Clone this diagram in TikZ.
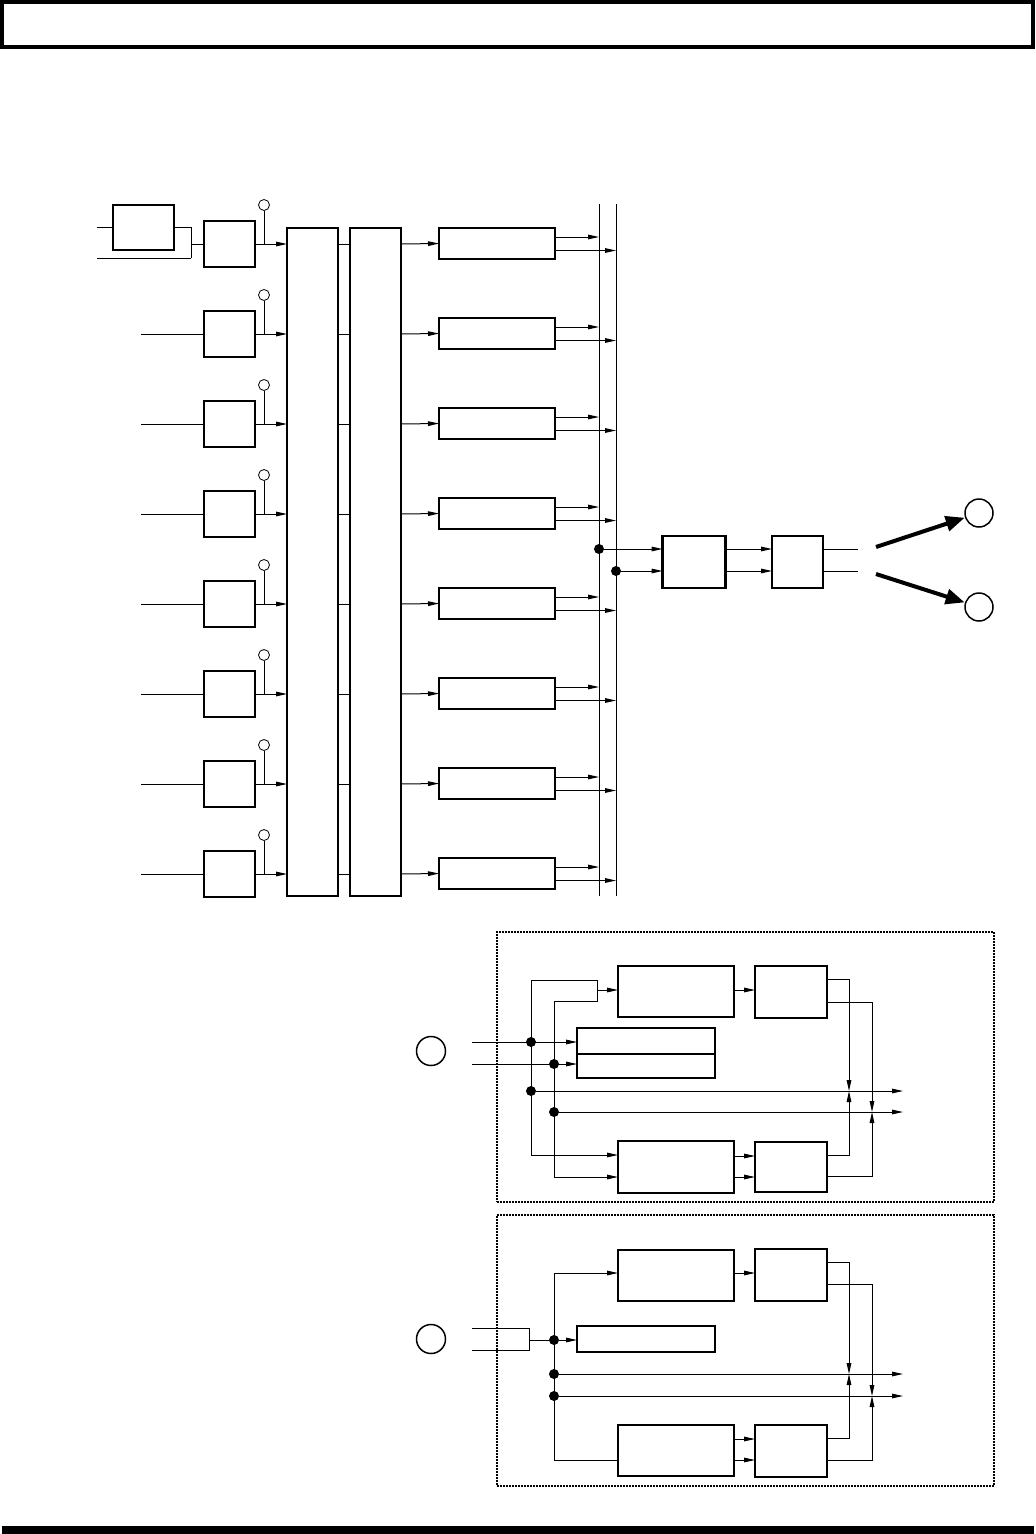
\documentclass[tikz,border=0pt]{standalone}
\usetikzlibrary{arrows.meta}
\begin{document}
\begin{tikzpicture}[x=1pt,y=-1pt,
  wire/.style={line width=1pt},
  arr/.style={line width=1pt,-{Triangle[length=11pt,width=4.6pt]}},
  bigarr/.style={line width=4pt,-{Triangle[length=19pt,width=15pt]}},
  tbox/.style={draw,line width=2.2pt,inner sep=0pt,outer sep=0pt},
  mbox/.style={draw,line width=1.6pt,inner sep=0pt,outer sep=0pt},
  nbox/.style={draw,line width=1.1pt,inner sep=0pt,outer sep=0pt},
  knob/.style={draw,circle,line width=0.8pt,minimum size=11pt,inner sep=0pt,outer sep=0pt},
  port/.style={draw,circle,line width=1.5pt,minimum size=29pt,inner sep=0pt,outer sep=0pt},
  dot/.style={fill,circle,minimum size=10pt,inner sep=0pt,outer sep=0pt},
  dotbox/.style={draw,line width=1.4pt,dash pattern=on 1.6pt off 1.4pt,inner sep=0pt,outer sep=0pt}]
\useasboundingbox (0,0) rectangle (1036,1534);
% header and footer
\node[draw,line width=4pt,minimum width=1031pt,minimum height=45pt,inner sep=0pt] (hdr) at (517.5,24.5) {};
\node[fill,minimum width=1032pt,minimum height=8pt,inner sep=0pt] (foot) at (518,1530) {};

% mixer columns
\node[tbox,minimum width=51pt,minimum height=668pt] (mixA) at (312.5,562) {};
\node[tbox,minimum width=51pt,minimum height=668pt] (mixB) at (375.5,562) {};
% bus lines
\coordinate (b1t) at (599,204); \coordinate (b1b) at (599,896);
\coordinate (b2t) at (616,204); \coordinate (b2b) at (616,896);
\draw[line width=1pt] (b1t) -- (b1b);
\draw[line width=1pt] (b2t) -- (b2b);

% first row pre-box
\node[tbox,minimum width=61pt,minimum height=45pt] (pre) at (143.5,227.5) {};
\coordinate (ina) at (97,227);
\coordinate (inb) at (97,258);
\coordinate (jt) at (191,227);
\coordinate (jb) at (191,258);
\coordinate (jm) at (191,244);
\draw[wire] (ina) -- (ina -| pre.west);
\draw[wire] (jt -| pre.east) -- (jt) -- (jb);
\draw[wire] (inb) -- (jb);

\foreach \i in {0,...,7}{
  \pgfmathsetmacro{\yy}{244+90*\i}
  \coordinate (y\i) at (0,\yy);
  \node[tbox,minimum width=51pt,minimum height=46pt] (rb\i) at (229.5,\yy) {};
  \node[knob] (kn\i) at (264,\yy-39) {};
  \coordinate (st\i) at (264,\yy);
  \draw[wire] (st\i) -- (kn\i.south);
  \draw[arr] (rb\i.east) -- (mixA.west |- y\i);
  \draw[wire] (mixA.east |- y\i) -- (mixB.west |- y\i);
  \node[tbox,minimum width=116pt,minimum height=31pt] (L\i) at (497,\yy-0.5) {};
  \draw[arr] (mixB.east |- y\i) -- (L\i.west);
  \coordinate (u\i) at (555,\yy-7);
  \coordinate (l\i) at (555,\yy+6.5);
  \draw[arr] (u\i) -- (u\i -| b1t);
  \draw[arr] (l\i) -- (l\i -| b2t);
}
\draw[wire] (jm) -- (rb0.west);
\foreach \i in {1,...,7}{
  \coordinate (in\i) at (141,244+90*\i);
  \draw[wire] (in\i) -- (rb\i.west);
}

% merge to output
\node[dot] (m1) at (599,549) {};
\node[dot] (m2) at (616,571) {};
\node[draw,line width=2.6pt,minimum width=63pt,minimum height=52pt,inner sep=0pt,outer sep=0pt] (bA) at (694,562) {};
\node[nbox,line width=1.5pt,minimum width=51pt,minimum height=52pt] (bB) at (797.5,562) {};
\draw[arr] (m1) -- (m1 -| bA.west);
\draw[arr] (m2) -- (m2 -| bA.west);
\draw[arr] (bA.east |- m1) -- (bB.west |- m1);
\draw[arr] (bA.east |- m2) -- (bB.west |- m2);
\coordinate (o1) at (858,549);
\coordinate (o2) at (858,571);
\draw[wire] (bB.east |- o1) -- (o1);
\draw[wire] (bB.east |- o2) -- (o2);
\node[port,minimum size=28pt] (O1) at (979,513) {};
\node[port,minimum size=28pt] (O2) at (979,607) {};
\coordinate (ba1) at (876,547);
\coordinate (ba2) at (876,574);
\draw[bigarr,shorten >=1pt] (ba1) -- (O1);
\draw[bigarr,shorten >=1pt] (ba2) -- (O2);

% ===== panel 1 =====
\node[dotbox,minimum width=497pt,minimum height=270pt] (p1) at (745.5,1067) {};
\node[port] (Q1) at (431,1051) {};
\coordinate (i1a) at (472,1042);
\coordinate (i1b) at (472,1064);
\node[draw,line width=2.4pt,minimum width=138pt,minimum height=26pt,inner sep=0pt,outer sep=0pt] (E1) at (646,1041) {};
\node[draw,line width=2.4pt,minimum width=138pt,minimum height=24pt,inner sep=0pt,outer sep=0pt] (E2) at (646,1066) {};
\node[mbox,minimum width=116pt,minimum height=51pt] (C1) at (676,991.5) {};
\node[tbox,minimum width=72pt,minimum height=52pt] (D1) at (791,992) {};
\node[mbox,minimum width=116pt,minimum height=52pt] (F1) at (676,1167) {};
\node[tbox,minimum width=72pt,minimum height=50pt] (G1) at (791,1167) {};
\node[dot] (d1) at (531,1042) {};
\node[dot] (d2) at (554,1064) {};
\node[dot] (d3) at (531,1091) {};
\node[dot] (d4) at (554,1112) {};
\draw[arr] (i1a) -- (i1a -| E1.west);
\draw[arr] (i1b) -- (i1b -| E2.west);
\coordinate (v1t) at (531,980);
\coordinate (v1b) at (531,1155);
\coordinate (v2t) at (554,1001);
\coordinate (v2b) at (554,1177);
\coordinate (brt) at (597,980);
\coordinate (brb) at (597,1001);
\coordinate (brm) at (597,990);
\draw[wire] (v1b) -- (v1t) -- (brt) -- (brb) -- (v2t) -- (v2b);
\draw[arr] (brm) -- (brm -| C1.west);
\draw[arr] (v1b) -- (v1b -| F1.west);
\draw[arr] (v2b) -- (v2b -| F1.west);
\coordinate (cd) at (734,990);
\draw[arr] (cd) -- (cd -| D1.west);
\coordinate (fg1) at (734,1156);
\coordinate (fg2) at (734,1177);
\draw[arr] (fg1) -- (fg1 -| G1.west);
\draw[arr] (fg2) -- (fg2 -| G1.west);
\coordinate (e1) at (903,1091);
\coordinate (e2) at (903,1112);
\draw[arr] (d3) -- (e1);
\draw[arr] (d4) -- (e2);
\coordinate (x1) at (849,1091);
\coordinate (x2) at (872,1112);
\coordinate (da) at (827,979);
\coordinate (db) at (827,1002);
\coordinate (ga) at (827,1155);
\coordinate (gb) at (827,1176);
\draw[arr] (da) -| (x1);
\draw[arr] (db) -| (x2);
\draw[arr] (ga) -| (x1);
\draw[arr] (gb) -| (x2);

% ===== panel 2 =====
\node[dotbox,minimum width=497pt,minimum height=271pt] (p2) at (745.5,1350.5) {};
\node[port] (Q2) at (431,1339) {};
\coordinate (i2a) at (472,1328);
\coordinate (i2b) at (472,1350);
\coordinate (k2a) at (529,1328);
\coordinate (k2b) at (529,1350);
\coordinate (k2m) at (529,1340);
\draw[wire] (i2a) -- (k2a) -- (k2b) -- (i2b);
\node[draw,line width=2.4pt,minimum width=138pt,minimum height=26pt,inner sep=0pt,outer sep=0pt] (H2) at (646,1339) {};
\node[dot] (h2) at (554,1340) {};
\draw[wire] (k2m) -- (h2);
\draw[arr] (h2) -- (h2 -| H2.west);
\node[mbox,minimum width=116pt,minimum height=51pt] (I2) at (676,1275.5) {};
\node[tbox,minimum width=72pt,minimum height=52pt] (L2) at (791,1275) {};
\node[nbox,minimum width=116pt,minimum height=51pt] (J2) at (676,1450.5) {};
\node[tbox,minimum width=72pt,minimum height=52pt] (K2) at (791,1451) {};
\coordinate (w2t) at (554,1273);
\coordinate (w2b) at (554,1460);
\draw[wire] (w2t) -- (w2b);
\draw[arr] (w2t) -- (w2t -| I2.west);
\draw[wire] (w2b) -- (w2b -| J2.west);
\node[dot] (d5) at (554,1374) {};
\node[dot] (d6) at (554,1396) {};
\coordinate (il) at (734,1273);
\draw[arr] (il) -- (il -| L2.west);
\coordinate (jk1) at (734,1439);
\coordinate (jk2) at (734,1460);
\draw[arr] (jk1) -- (jk1 -| K2.west);
\draw[arr] (jk2) -- (jk2 -| K2.west);
\coordinate (e3) at (903,1374);
\coordinate (e4) at (903,1396);
\draw[arr] (d5) -- (e3);
\draw[arr] (d6) -- (e4);
\coordinate (x3) at (849,1374);
\coordinate (x4) at (872,1396);
\coordinate (la) at (827,1262);
\coordinate (lb) at (827,1284);
\coordinate (ka) at (827,1438);
\coordinate (kb) at (827,1460);
\draw[arr] (la) -| (x3);
\draw[arr] (lb) -| (x4);
\draw[arr] (ka) -| (x3);
\draw[arr] (kb) -| (x4);
\end{tikzpicture}
\end{document}
